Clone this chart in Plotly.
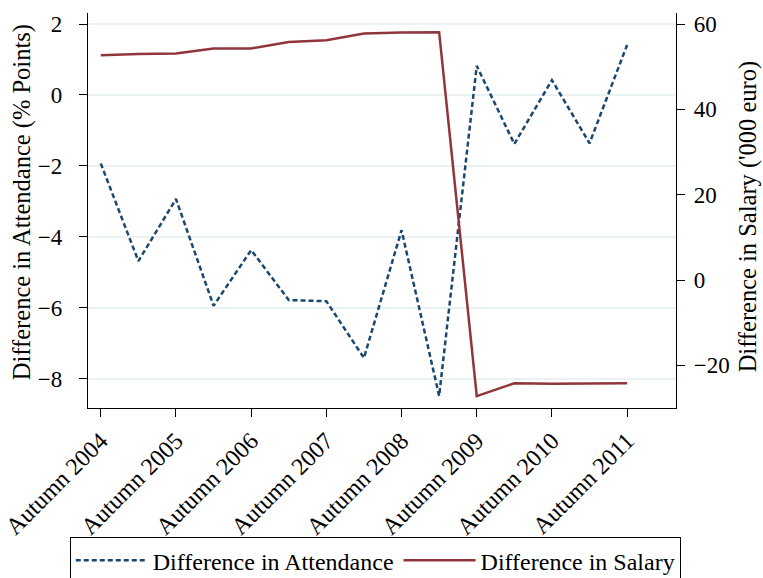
import plotly.graph_objects as go

# Half-year observation points, autumn 2004 through autumn 2011
periods = [2004.0, 2004.5, 2005.0, 2005.5, 2006.0, 2006.5, 2007.0, 2007.5,
           2008.0, 2008.5, 2009.0, 2009.5, 2010.0, 2010.5, 2011.0]

# Difference in attendance (percentage points)
attendance_diff = [-1.93, -4.68, -2.93, -5.94, -4.37, -5.78, -5.81, -7.41,
                   -3.81, -8.48, 0.82, -1.38, 0.42, -1.36, 1.41]

# Difference in salary ('000 euro)
salary_diff = [52.7, 53.0, 53.1, 54.3, 54.3, 55.8, 56.2, 57.8,
               58.0, 58.1, -27.2, -24.2, -24.3, -24.2, -24.2]

tick_years = [2004, 2005, 2006, 2007, 2008, 2009, 2010, 2011]
tick_labels = [f"Autumn {y}" for y in tick_years]
left_ticks = [-8, -6, -4, -2, 0, 2]
right_ticks = [-20, 0, 20, 40, 60]

FONT = "Liberation Serif"
NAVY = "#1a476f"
MAROON = "#90353b"

fig = go.Figure()
fig.add_trace(go.Scatter(
    x=periods, y=attendance_diff, mode="lines",
    name="Difference in Attendance",
    line=dict(color=NAVY, width=2.5, dash="5px,3px"),
    yaxis="y",
))
fig.add_trace(go.Scatter(
    x=periods, y=salary_diff, mode="lines",
    name="Difference in Salary",
    line=dict(color=MAROON, width=2.5),
    yaxis="y2",
))

axis_common = dict(
    showline=True, linecolor="black", linewidth=1.3,
    ticks="outside", ticklen=8, tickcolor="black", tickwidth=1.3,
    zeroline=False, automargin=False,
)

fig.update_layout(
    width=763, height=578,
    margin=dict(l=88, r=87, t=13, b=170, autoexpand=False),
    paper_bgcolor="white", plot_bgcolor="white",
    font=dict(family=FONT, size=24, color="black"),
    showlegend=True,
    legend=dict(
        orientation="h", x=-0.031, xanchor="left", y=-0.327, yanchor="top",
        bordercolor="black", borderwidth=1,
        font=dict(family=FONT, size=24, color="black"),
        itemwidth=72,
    ),
    xaxis=dict(
        range=[2003.83, 2011.65],
        tickvals=tick_years, ticktext=tick_labels, tickangle=-45,
        tickfont=dict(family=FONT, size=24, color="black"),
        showgrid=False, **axis_common,
    ),
    yaxis=dict(
        range=[-8.82, 2.31], tickvals=left_ticks,
        ticktext=[f"\u2212{abs(v)}" if v < 0 else str(v) for v in left_ticks],
        tickfont=dict(family=FONT, size=23, color="black"),
        showgrid=True, gridcolor="#eaf2f3", gridwidth=1.5,
        ticklabelstandoff=12,
        **axis_common,
    ),
    yaxis2=dict(
        range=[-30.0, 62.6], tickvals=right_ticks,
        ticktext=[f"\u2212{abs(v)}" if v < 0 else str(v) for v in right_ticks],
        tickfont=dict(family=FONT, size=23, color="black"),
        overlaying="y", side="right", showgrid=False,
        ticklabelstandoff=4,
        **axis_common,
    ),
    annotations=[
        dict(text="Difference in Attendance (% Points)", textangle=-90,
             xref="paper", yref="paper", x=-0.112, y=0.5215,
             xanchor="center", yanchor="middle", showarrow=False,
             font=dict(family=FONT, size=24.5, color="black")),
        dict(text="Difference in Salary ('000 euro)", textangle=-90,
             xref="paper", yref="paper", x=1.123, y=0.4835,
             xanchor="center", yanchor="middle", showarrow=False,
             font=dict(family=FONT, size=24.5, color="black")),
    ],
)

fig.write_html("out.html")
